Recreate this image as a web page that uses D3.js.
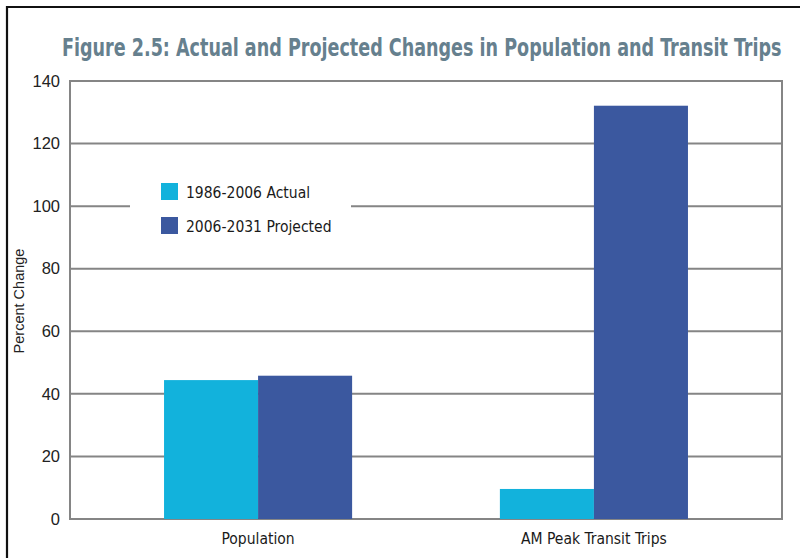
<!DOCTYPE html>
<html>
<head>
<meta charset="utf-8">
<script src="https://cdn.jsdelivr.net/npm/d3@7"></script>
<style>
  html, body { margin: 0; padding: 0; background: #fff; }
  svg { display: block; }
</style>
</head>
<body>
<svg id="chart" width="800" height="558"></svg>
<script>
// Percent change in population and AM peak transit trips
const categories = ["Population", "AM Peak Transit Trips"];
const seriesNames = ["1986-2006 Actual", "2006-2031 Projected"];
const actual = [44.4, 9.6];
const projected = [45.8, 132.1];
const yTicks = [0, 20, 40, 60, 80, 100, 120, 140];
const titleText = "Figure 2.5: Actual and Projected Changes in Population and Transit Trips";
const yLabel = "Percent Change";

const colors = ["#12b2dc", "#3b589f"];
const gridColor = "#858585";
const narrow = "'DejaVu Sans Condensed', 'Liberation Sans Narrow', sans-serif";

const svg = d3.select("#chart");
const W = 800, H = 558;
const plot = { left: 70, right: 782, top: 81, bottom: 519 };

// outer frame
svg.append("path")
  .attr("d", `M7,${H + 5} V7 H${W + 5}`)
  .attr("fill", "none").attr("stroke", "#111").attr("stroke-width", 2.2);

// title: a condensed bold face, squeezed horizontally to fit the frame
const titleX = 62, titleWidth = 720;
const title = svg.append("text")
  .attr("x", 0).attr("y", 0)
  .attr("font-family", narrow).attr("font-weight", "bold")
  .attr("font-stretch", "condensed")
  .attr("font-size", 24.5).attr("fill", "#66808e")
  .text(titleText);
const natural = title.node().getComputedTextLength();
title.attr("transform", `translate(${titleX},56) scale(${titleWidth / natural},1)`);

const y = d3.scaleLinear().domain([0, 140]).range([plot.bottom, plot.top]);
const x0 = d3.scaleBand().domain(categories)
  .range([plot.left, plot.right]).paddingInner(0.44).paddingOuter(0.28);
const x1 = d3.scaleBand().domain(seriesNames).range([0, x0.bandwidth()]);

// gridlines
svg.append("g").selectAll("line").data(yTicks).join("line")
  .attr("x1", plot.left).attr("x2", plot.right)
  .attr("y1", d => y(d)).attr("y2", d => y(d))
  .attr("stroke", gridColor).attr("stroke-width", 2);

// left and right frame of the plot
svg.append("line").attr("x1", plot.left).attr("x2", plot.left)
  .attr("y1", y(140) - 1).attr("y2", y(0) + 1)
  .attr("stroke", gridColor).attr("stroke-width", 2);
svg.append("line").attr("x1", plot.right).attr("x2", plot.right)
  .attr("y1", y(140) - 1).attr("y2", y(0) + 1)
  .attr("stroke", gridColor).attr("stroke-width", 2);

// y axis tick labels
const yAxis = d3.axisLeft(y).tickValues(yTicks).tickSize(0).tickPadding(10);
const gy = svg.append("g").attr("transform", `translate(${plot.left},0)`).call(yAxis);
gy.select(".domain").remove();
gy.selectAll("text")
  .attr("font-family", "'Liberation Sans', Arial, sans-serif")
  .attr("font-size", 16.5).attr("fill", "#222");

// y axis title
svg.append("text")
  .attr("transform", `translate(24,${301}) rotate(-90)`)
  .attr("text-anchor", "middle")
  .attr("font-family", "'Liberation Sans', Arial, sans-serif")
  .attr("font-size", 14.5).attr("fill", "#222")
  .text(yLabel);

// bars
const rows = categories.map((c, i) => ({ cat: c, vals: [actual[i], projected[i]] }));
const groups = svg.append("g").selectAll("g").data(rows).join("g")
  .attr("transform", d => `translate(${x0(d.cat)},0)`);
groups.selectAll("rect")
  .data(d => d.vals.map((v, j) => ({ name: seriesNames[j], v, j })))
  .join("rect")
  .attr("x", d => x1(d.name))
  .attr("width", x1.bandwidth())
  .attr("y", d => y(d.v))
  .attr("height", d => y(0) - y(d.v))
  .attr("fill", d => colors[d.j]);

// category labels
const xAxis = d3.axisBottom(x0).tickSize(0).tickPadding(14);
const gx = svg.append("g").attr("transform", `translate(0,${plot.bottom})`).call(xAxis);
gx.select(".domain").remove();
gx.selectAll("text")
  .attr("font-family", narrow).attr("font-stretch", "condensed")
  .attr("font-size", 15.5).attr("fill", "#1a1a1a");

// legend
const legend = svg.append("g").attr("transform", "translate(130,172)");
legend.append("rect").attr("width", 221).attr("height", 72).attr("fill", "#fff");
const items = legend.selectAll("g").data(seriesNames).join("g")
  .attr("transform", (d, i) => `translate(31,${11 + i * 34})`);
items.append("rect").attr("width", 17).attr("height", 17)
  .attr("fill", (d, i) => colors[i]);
items.append("text").attr("x", 25).attr("y", 15)
  .attr("font-family", narrow).attr("font-stretch", "condensed")
  .attr("font-size", 15.5).attr("fill", "#1a1a1a")
  .text(d => d);
</script>
</body>
</html>
